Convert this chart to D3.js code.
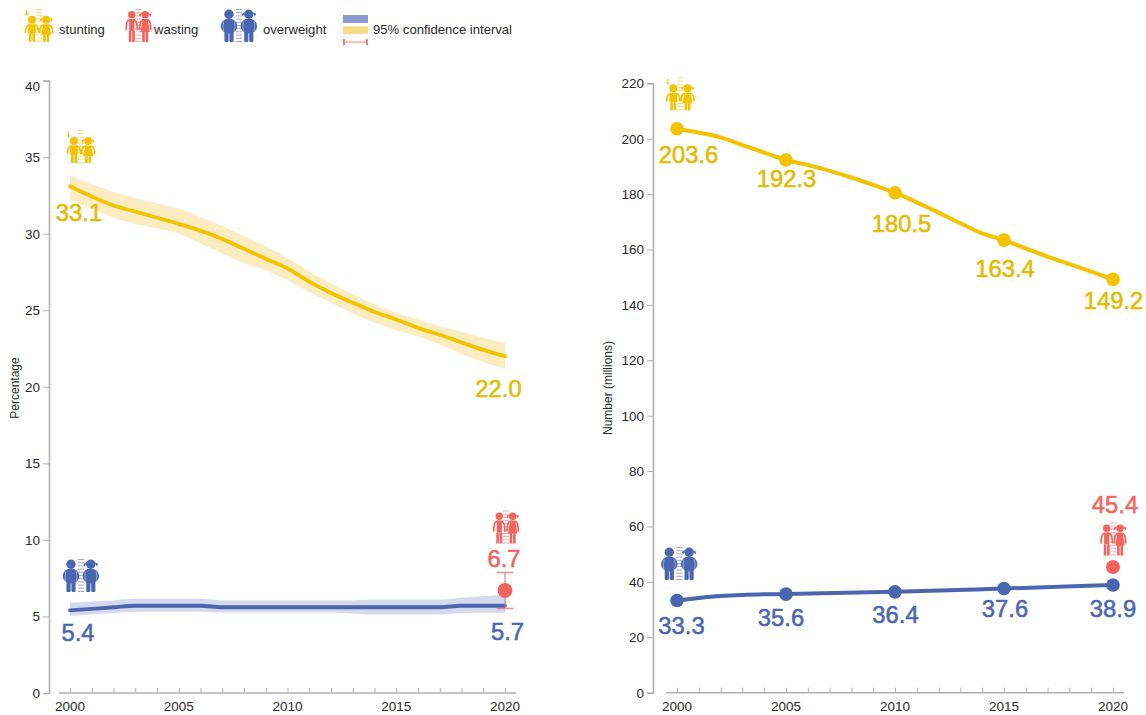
<!DOCTYPE html>
<html><head><meta charset="utf-8">
<script src="https://cdn.jsdelivr.net/npm/d3@7"></script>
<style>html,body{margin:0;padding:0;background:#fff}svg{display:block}text{font-family:"Liberation Sans",Arial,sans-serif}</style>
</head><body><svg id="c" width="1146" height="715"></svg>
<script>
const years=d3.range(2000,2021);
const stuntPct=[33.1,32.43,31.84,31.44,31.04,30.64,30.2,29.65,29.01,28.36,27.72,26.87,26.13,25.49,24.89,24.4,23.85,23.4,22.9,22.41,22.0];
const stuntHi=[33.82,33.23,32.73,32.33,31.98,31.64,31.09,30.5,29.85,29.16,28.41,27.52,26.77,26.03,25.39,24.84,24.4,23.95,23.6,23.2,22.86];
const stuntLo=[32.23,31.64,31.04,30.64,30.35,30.0,29.36,28.71,28.07,27.62,26.97,26.18,25.49,24.79,24.2,23.7,23.3,22.76,22.16,21.62,21.17];
const overPct=[5.4,5.5,5.6,5.7,5.7,5.7,5.7,5.6,5.6,5.6,5.6,5.6,5.6,5.6,5.6,5.6,5.6,5.6,5.7,5.7,5.7];
const overHi=[5.89,5.98,6.05,6.15,6.15,6.15,6.15,6.05,6.05,6.05,6.05,6.05,6.05,6.05,6.1,6.1,6.1,6.1,6.22,6.32,6.42];
const overLo=[5.05,5.13,5.22,5.3,5.3,5.3,5.3,5.25,5.25,5.25,5.25,5.25,5.25,5.2,5.12,5.12,5.12,5.12,5.22,5.24,5.24];
const wastePct={year:2020,value:6.7,lo:5.52,hi:7.87};
const yearsN=[2000,2005,2010,2015,2020];
const stuntN=[203.6,192.3,180.5,163.4,149.2];
const overN=[33.3,35.6,36.4,37.6,38.9];
const stuntCurve=[203.6,202.2,200.5,197.7,195,192.3,190.5,188.4,186,183.3,180.5,177,173.3,169.5,165.8,163.4,160.4,157.4,154.7,152,149.2];
const overCurveYears=[2000,2001,2002,2003,2004,2005,2010,2015,2020];
const overCurve=[33.3,34.2,34.9,35.3,35.5,35.6,36.4,37.6,38.9];
const wasteN={year:2020,value:45.4};
const pctTicks=[0,5,10,15,20,25,30,35,40];
const numTicks=d3.range(0,221,20);
const xLabels=[2000,2005,2010,2015,2020];
const YEL="#f4c300",YELT="#e3bb00",BLU="#4a66b1",RED="#f4645f",GREY="#b0b0b0",INK="#2a2a2a";
const svg=d3.select("#c");
const f1=d3.format(".1f");

function axes(x,y,ticks,left,title,titleDx){
  const g=svg.append("g");
  const ya=g.append("g").attr("transform",`translate(${left},0)`)
    .call(d3.axisLeft(y).tickValues(ticks).tickSize(6).tickPadding(3));
  const xa=g.append("g").attr("transform",`translate(0,${y(0)})`)
    .call(d3.axisTop(x).tickValues(years).tickSize(5).tickSizeOuter(0).tickFormat(""));
  g.selectAll(".domain,.tick line").attr("stroke",GREY).attr("stroke-width",1);
  ya.select(".domain").attr("stroke-width",1.6);
  ya.selectAll(".tick text").filter(d=>d===ticks[ticks.length-1]&&left<100).attr("dy","0.7em");
  xa.select(".domain").attr("stroke-width",1.6).attr("d",`M${x(2000)-11},0H${x(2020)+11}`);
  g.selectAll("text").attr("font-size",13.5).attr("fill",INK).attr("font-family",'"Liberation Sans"');
  g.append("g").selectAll("text").data(xLabels).join("text").attr("x",d=>x(d)).attr("y",y(0)+18)
    .attr("text-anchor","middle").attr("font-size",13.5).attr("fill",INK).text(d=>d);
  g.append("text").attr("transform",`translate(${left-titleDx},388) rotate(-90)`)
    .attr("text-anchor","middle").attr("font-size",12).attr("fill",INK).text(title);
}
function lab(x,y,t,c){
  svg.append("text").attr("x",x).attr("y",y).attr("text-anchor","middle").attr("font-size",23.8)
    .attr("fill",c).attr("stroke",c).attr("stroke-width",0.55).text(t);
}

/* pictograms: pair of children with a height ruler between them */
function figure(g,cx,kind,girl,c){
  const s=kind==="normal"?{hy:11,r:4,top:15.4,mid:25,bot:33,hw:4.6}
         :kind==="thin"?{hy:5.8,r:3.7,top:10,mid:22,bot:33,hw:3.4}
         :{hy:5.3,r:4.7,top:9.7,mid:24,bot:33,hw:8.3};
  g.append("circle").attr("cx",cx).attr("cy",s.hy).attr("r",s.r).attr("fill",c);
  if(girl){
    g.append("path").attr("d",`M${cx-s.r+1},${s.hy-2} L${cx-s.r-2.6},${s.hy-0.5} L${cx-s.r-1.5},${s.hy+2.2} Z M${cx+s.r-1},${s.hy-2} L${cx+s.r+2.6},${s.hy-0.5} L${cx+s.r+1.5},${s.hy+2.2} Z`).attr("fill",c);
  }
  if(kind==="fat"){
    g.append("ellipse").attr("cx",cx).attr("cy",17).attr("rx",s.hw).attr("ry",7.6).attr("fill",c);
    g.append("rect").attr("x",cx-4.6).attr("y",s.mid-3).attr("width",4.2).attr("height",s.bot-s.mid+3).attr("rx",1.2).attr("fill",c);
    g.append("rect").attr("x",cx+0.4).attr("y",s.mid-3).attr("width",4.2).attr("height",s.bot-s.mid+3).attr("rx",1.2).attr("fill",c);
    g.append("path").attr("d",`M${cx-5.4},12.5 Q${cx-6.4},18 ${cx-5.4},23 M${cx+5.4},12.5 Q${cx+6.4},18 ${cx+5.4},23`)
      .attr("stroke","#fff").attr("stroke-width",0.6).attr("stroke-opacity",.7).attr("fill","none");
  } else {
    const flare=kind==="thin"?4.6:5.2;
    const d=girl
      ?`M${cx-2.6},${s.top} H${cx+2.6} L${cx+flare},${s.mid+1} H${cx-flare} Z`
      :`M${cx-s.hw+0.8},${s.top} H${cx+s.hw-0.8} V${s.mid} H${cx-s.hw+0.8} Z`;
    g.append("path").attr("d",d).attr("fill",c);
    g.append("rect").attr("x",cx-3).attr("y",s.mid).attr("width",2.6).attr("height",s.bot-s.mid).attr("fill",c);
    g.append("rect").attr("x",cx+0.4).attr("y",s.mid).attr("width",2.6).attr("height",s.bot-s.mid).attr("fill",c);
    const ax=kind==="thin"?5.6:6.6;
    g.append("path").attr("d",`M${cx-2.6},${s.top+0.8} Q${cx-ax},${s.top+1.4} ${cx-ax},${s.mid-1.5} M${cx+2.6},${s.top+0.8} Q${cx+ax},${s.top+1.4} ${cx+ax},${s.mid-1.5}`)
      .attr("stroke",c).attr("stroke-width",1.7).attr("stroke-linecap","round").attr("fill","none");
  }
}
function icon(x,y,kind){
  const c=kind==="fat"?BLU:kind==="thin"?RED:YEL;
  const g=svg.append("g").attr("transform",`translate(${x},${y})`);
  const rc=kind==="fat"?19:kind==="thin"?13:14;
  const r=g.append("g").attr("stroke",c).attr("stroke-opacity",0.55).attr("stroke-width",1);
  d3.range(0,33.5,3.2).forEach(t=>r.append("line").attr("x1",rc-3).attr("x2",rc+3).attr("y1",t+0.5).attr("y2",t+0.5));
  if(kind==="fat"){figure(g,9,kind,false,c);figure(g,28.8,kind,true,c);}
  else if(kind==="thin"){figure(g,6.3,kind,false,c);figure(g,19.7,kind,true,c);}
  else {figure(g,7,kind,false,c);figure(g,21.2,kind,true,c);
    g.append("path").attr("d","M1.5,1.5V6.5M0,4.5L1.5,6.8L3,4.5").attr("stroke",c).attr("fill","none").attr("stroke-width",1);}
}

/* left panel */
const x1=d3.scaleLinear().domain([2000,2020]).range([70,505]);
const y1=d3.scaleLinear().domain([0,40]).range([693,80.6]);
axes(x1,y1,pctTicks,49,"Percentage",30);
const band=(hi,lo,c,o)=>svg.append("path").attr("fill",c).attr("fill-opacity",o)
  .attr("d",d3.area().x((d,i)=>x1(years[i])).y0((d,i)=>y1(lo[i])).y1(d=>y1(d)).curve(d3.curveMonotoneX)(hi));
band(stuntHi,stuntLo,"#f9dc8f",0.55);
band(overHi,overLo,"#8d9bd0",0.38);
const line1=d3.line().x((d,i)=>x1(years[i])).y(d=>y1(d)).curve(d3.curveMonotoneX);
[[stuntPct,YEL],[overPct,BLU]].forEach(([v,c])=>svg.append("path").attr("d",line1(v)).attr("fill","none").attr("stroke",c).attr("stroke-width",3.8).attr("stroke-linecap","round"));
const wx=x1(wastePct.year);
svg.append("line").attr("x1",wx).attr("x2",wx).attr("y1",y1(wastePct.hi)).attr("y2",y1(wastePct.lo)).attr("stroke",RED).attr("stroke-width",1);
[wastePct.hi,wastePct.lo].forEach(v=>svg.append("line").attr("x1",wx-8.5).attr("x2",wx+8.5).attr("y1",y1(v)).attr("y2",y1(v)).attr("stroke",RED).attr("stroke-opacity",.7).attr("stroke-width",1.5));
svg.append("circle").attr("cx",wx).attr("cy",y1(wastePct.value)).attr("r",7.5).attr("fill",RED);
lab(x1(2000)+9,221,f1(stuntPct[0]),YELT);
lab(x1(2020)-6.5,397,f1(stuntPct[20]),YELT);
lab(x1(2000)+8,641,f1(overPct[0]),BLU);
lab(x1(2020)+2.5,639.5,f1(overPct[20]),BLU);
lab(x1(2020)-1,567,f1(wastePct.value),RED);
icon(67,130,"normal");icon(62,559,"fat");icon(493,510.5,"thin");

/* right panel */
const x2=d3.scaleLinear().domain([2000,2020]).range([677,1113]);
const y2=d3.scaleLinear().domain([0,220]).range([692.7,83.3]);
axes(x2,y2,numTicks,653,"Number (millions)",41);
const stLabelPos=[[11.5,162.5],[0.5,187],[6.5,232],[1,277],[0.5,309]];
const ovLabelPos=[[4.5,634],[-5,626],[0.5,623],[1,617],[0,616.5]];
svg.append("path").attr("fill","none").attr("stroke",YEL).attr("stroke-width",4)
  .attr("d",d3.line().x((d,i)=>x2(years[i])).y(d=>y2(d)).curve(d3.curveMonotoneX)(stuntCurve));
svg.append("path").attr("fill","none").attr("stroke",BLU).attr("stroke-width",4)
  .attr("d",d3.line().x((d,i)=>x2(overCurveYears[i])).y(d=>y2(d)).curve(d3.curveMonotoneX)(overCurve));
[[stuntN,YEL,YELT,stLabelPos],[overN,BLU,BLU,ovLabelPos]].forEach(([v,c,t,p])=>{
  v.forEach((d,i)=>{
    svg.append("circle").attr("cx",x2(yearsN[i])).attr("cy",y2(d)).attr("r",6.8).attr("fill",c);
    lab(x2(yearsN[i])+p[i][0],p[i][1],f1(d),t);
  });
});
svg.append("circle").attr("cx",x2(wasteN.year)).attr("cy",y2(wasteN.value)).attr("r",7).attr("fill",RED);
lab(x2(2020)+2,513,f1(wasteN.value),RED);
icon(666.3,77.3,"normal");icon(660.3,547,"fat");icon(1100.4,522.5,"thin");

/* legend */
icon(25,8.8,"normal");icon(125.5,9,"thin");icon(220,9,"fat");
const leg=(x,t)=>svg.append("text").attr("x",x).attr("y",34).attr("font-size",13.1).attr("fill",INK).text(t);
leg(59,"stunting");leg(154,"wasting");leg(263,"overweight");leg(373,"95% confidence interval");
svg.append("rect").attr("x",343).attr("y",15).attr("width",25).attr("height",8).attr("fill","#8d9bd0");
svg.append("rect").attr("x",343).attr("y",26.4).attr("width",25).attr("height",7.4).attr("fill","#f9d884");
svg.append("line").attr("x1",343).attr("x2",368).attr("y1",42).attr("y2",42).attr("stroke",RED).attr("stroke-opacity",.7).attr("stroke-width",1.2);
[344,367].forEach(v=>svg.append("line").attr("x1",v).attr("x2",v).attr("y1",39).attr("y2",45.5).attr("stroke",RED).attr("stroke-width",1.6));
</script></body></html>
